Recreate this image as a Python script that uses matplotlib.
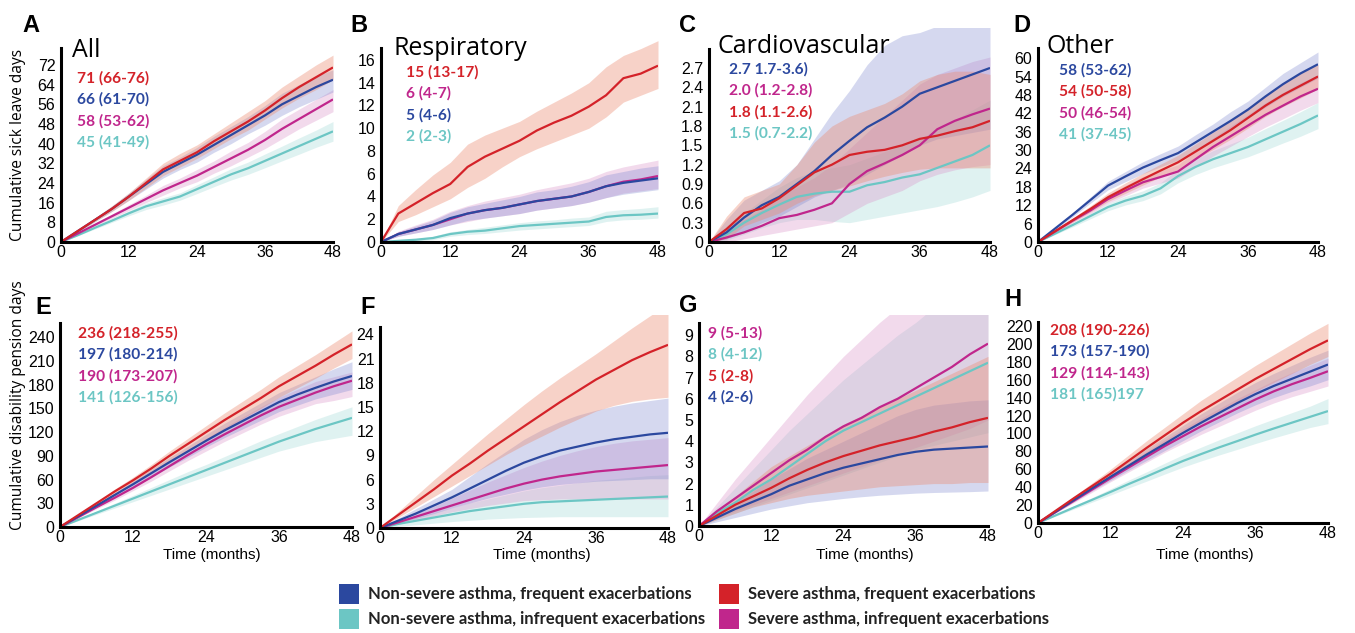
import matplotlib
matplotlib.use("Agg")
import matplotlib.pyplot as plt
from matplotlib.patches import Rectangle

# ---------------- data ----------------
MONTHS = [0, 3, 6, 9, 12, 15, 18, 21, 24, 27, 30, 33, 36, 39, 42, 45, 48]
X_TICKS = [0, 12, 24, 36, 48]

# Panel A - All (sick leave)
A_blue = [0, 4.5, 9, 13.5, 18.5, 23.5, 28.5, 32, 35.5, 39.5, 43.5, 47.5, 51.5, 56, 59.5, 63, 66]
A_blue_lo = [0, 4.1, 8.3, 12.5, 17, 21.5, 26, 29.5, 32.5, 36.5, 40, 44, 47.5, 51.5, 55, 58, 61]
A_blue_hi = [0, 4.9, 9.8, 14.6, 20, 25.5, 31, 34.5, 38.5, 43, 47, 51, 55.5, 60.5, 64, 67.5, 70]
A_cyan = [0, 2.8, 5.8, 8.7, 11.7, 14.5, 16.5, 18.5, 21.5, 24.5, 27.5, 30, 33, 36, 39, 42, 45]
A_cyan_lo = [0, 2.6, 5.3, 8, 10.7, 13.2, 15, 17, 19.7, 22.5, 25.2, 27.5, 30.2, 33, 35.7, 38.5, 41]
A_cyan_hi = [0, 3, 6.3, 9.4, 12.7, 15.8, 18, 20, 23.3, 26.5, 29.8, 32.5, 35.8, 39, 42.3, 45.5, 49]
A_red = [0, 4.5, 9, 13.5, 18.5, 24, 29.5, 33, 36.5, 41, 45, 49, 53.5, 58.5, 63, 67, 71]
A_red_lo = [0, 4, 8.3, 12.5, 17, 22, 27, 30.5, 34, 38, 42, 45.5, 50, 54.5, 58.5, 62, 66]
A_red_hi = [0, 5, 9.8, 14.8, 20, 26, 32, 36, 39.5, 44, 48.5, 53, 57.5, 63, 67.5, 72, 76]
A_mag = [0, 3.5, 7, 10.5, 14, 17.5, 21, 24, 27, 30.5, 34, 37.5, 41.5, 46, 50, 54, 58]
A_mag_lo = [0, 3.2, 6.4, 9.6, 12.8, 16, 19, 22, 24.5, 28, 31, 34.5, 38, 42, 46, 49.5, 53]
A_mag_hi = [0, 3.8, 7.6, 11.4, 15.2, 19, 23, 26, 29.5, 33, 37, 40.5, 45, 50, 54, 58, 62]

# Panel B - Respiratory
B_blue = [0, 0.7, 1.1, 1.5, 2.1, 2.5, 2.8, 3.0, 3.3, 3.6, 3.8, 4.0, 4.4, 4.9, 5.2, 5.4, 5.6]
B_blue_lo = [0, 0.5, 0.8, 1.1, 1.5, 1.9, 2.1, 2.3, 2.5, 2.8, 3.0, 3.2, 3.5, 3.9, 4.2, 4.4, 4.6]
B_blue_hi = [0, 0.9, 1.4, 1.9, 2.6, 3.1, 3.4, 3.7, 4.0, 4.4, 4.6, 4.9, 5.3, 5.9, 6.2, 6.5, 6.7]
B_cyan = [0, 0.1, 0.2, 0.35, 0.7, 0.9, 1.0, 1.2, 1.4, 1.5, 1.6, 1.7, 1.8, 2.2, 2.35, 2.4, 2.5]
B_cyan_lo = [0, 0.05, 0.1, 0.2, 0.5, 0.65, 0.75, 0.9, 1.05, 1.15, 1.25, 1.35, 1.45, 1.8, 1.95, 2.0, 2.1]
B_cyan_hi = [0, 0.2, 0.3, 0.5, 0.9, 1.1, 1.3, 1.5, 1.7, 1.85, 1.95, 2.1, 2.2, 2.7, 2.85, 2.95, 3.1]
B_red = [0, 2.5, 3.4, 4.3, 5.1, 6.6, 7.5, 8.2, 8.9, 9.8, 10.5, 11.1, 11.9, 12.9, 14.4, 14.8, 15.5]
B_red_lo = [0, 1.8, 2.4, 3.1, 3.8, 4.8, 5.6, 6.6, 7.5, 8.2, 8.8, 9.4, 10, 11, 12.3, 12.9, 13.5]
B_red_hi = [0, 3.2, 4.6, 5.9, 7, 8.6, 9.4, 10, 10.6, 11.5, 12.3, 13.1, 14, 15.4, 16.4, 17, 17.7]
B_mag = [0, 0.7, 1.1, 1.5, 2.0, 2.5, 2.8, 3.0, 3.3, 3.6, 3.8, 4.0, 4.4, 4.9, 5.3, 5.5, 5.8]
B_mag_lo = [0, 0.5, 0.8, 1.1, 1.5, 1.8, 2.1, 2.3, 2.5, 2.8, 3.0, 3.2, 3.5, 3.9, 4.3, 4.5, 4.7]
B_mag_hi = [0, 0.95, 1.5, 2.0, 2.7, 3.2, 3.6, 3.9, 4.2, 4.6, 4.9, 5.2, 5.6, 6.2, 6.6, 6.9, 7.2]

# Panel C - Cardiovascular
C_blue = [0, 0.15, 0.38, 0.57, 0.7, 0.9, 1.1, 1.35, 1.57, 1.78, 1.93, 2.1, 2.3, 2.4, 2.5, 2.6, 2.7]
C_blue_lo = [0, 0.05, 0.15, 0.3, 0.4, 0.55, 0.7, 0.8, 0.9, 1.05, 1.2, 1.35, 1.5, 1.6, 1.65, 1.7, 1.75]
C_blue_hi = [0, 0.35, 0.65, 0.8, 0.95, 1.2, 1.6, 2.0, 2.35, 2.75, 3.05, 3.2, 3.25, 3.35, 3.45, 3.55, 3.6]
C_cyan = [0, 0.12, 0.3, 0.45, 0.58, 0.7, 0.75, 0.78, 0.78, 0.88, 0.93, 1.0, 1.05, 1.15, 1.25, 1.35, 1.5]
C_cyan_lo = [0, 0.03, 0.12, 0.22, 0.3, 0.35, 0.35, 0.32, 0.3, 0.35, 0.4, 0.45, 0.5, 0.55, 0.62, 0.7, 0.8]
C_cyan_hi = [0, 0.25, 0.45, 0.65, 0.85, 1.0, 1.1, 1.15, 1.2, 1.3, 1.4, 1.5, 1.6, 1.75, 1.9, 2.05, 2.2]
C_red = [0, 0.2, 0.45, 0.52, 0.68, 0.88, 1.08, 1.2, 1.35, 1.4, 1.43, 1.5, 1.6, 1.65, 1.72, 1.78, 1.88]
C_red_lo = [0, 0.05, 0.25, 0.35, 0.45, 0.6, 0.72, 0.8, 0.87, 0.95, 1.02, 1.08, 1.13, 1.15, 1.15, 1.15, 1.15]
C_red_hi = [0, 0.4, 0.7, 0.8, 0.9, 1.2, 1.55, 1.8, 1.95, 2.05, 2.15, 2.3, 2.5, 2.6, 2.65, 2.65, 2.6]
C_mag = [0, 0.07, 0.15, 0.25, 0.37, 0.42, 0.5, 0.6, 0.9, 1.1, 1.22, 1.35, 1.5, 1.75, 1.88, 1.98, 2.07]
C_mag_lo = [0, 0.0, 0.05, 0.1, 0.15, 0.2, 0.25, 0.3, 0.45, 0.6, 0.7, 0.8, 0.95, 1.05, 1.12, 1.17, 1.2]
C_mag_hi = [0, 0.2, 0.35, 0.5, 0.7, 0.85, 1.0, 1.2, 1.45, 1.7, 1.95, 2.2, 2.45, 2.6, 2.7, 2.8, 2.87]

# Panel D - Other
D_blue = [0, 4.5, 9, 13.7, 18.4, 21.4, 24.3, 26.7, 29, 32.5, 36, 39.5, 43.2, 47.5, 51.5, 55, 58]
D_blue_lo = [0, 4.2, 8.3, 12.7, 17, 19.7, 22.3, 24.5, 26.7, 30, 33.5, 36.5, 40.5, 44, 47.5, 50.5, 53.5]
D_blue_hi = [0, 4.8, 9.7, 14.7, 19.8, 23, 26.2, 28.8, 31.3, 35, 38.5, 42.5, 46, 50.5, 55, 58.5, 62]
D_cyan = [0, 2.8, 5.6, 8.5, 11.4, 13.5, 15.1, 17.5, 21.5, 24.5, 27, 29, 31, 33.5, 36, 38.5, 41.3]
D_cyan_lo = [0, 2.5, 5, 7.6, 10.2, 12.1, 13.5, 15.7, 19.3, 22, 24.2, 26, 27.8, 30, 32.3, 34.5, 37]
D_cyan_hi = [0, 3.1, 6.2, 9.4, 12.6, 14.9, 16.7, 19.3, 23.7, 27, 29.8, 32, 34.2, 37, 39.7, 42.5, 45.5]
D_red = [0, 3.6, 7.2, 10.8, 14.6, 17.6, 20.5, 23.3, 26, 29.5, 33, 36.5, 40.5, 44.5, 48, 51, 54]
D_red_lo = [0, 3.2, 6.5, 9.8, 13.2, 15.9, 18.6, 21.2, 23.7, 27, 30.2, 33.5, 37.2, 41, 44.2, 47, 50]
D_red_hi = [0, 4, 7.9, 11.8, 16, 19.3, 22.4, 25.4, 28.3, 32, 35.8, 39.5, 43.8, 48, 51.8, 55, 58]
D_mag = [0, 3.5, 7, 10.3, 14, 16.8, 19.5, 21.2, 23, 27, 31, 34.5, 38, 41.5, 44.5, 47.5, 50]
D_mag_lo = [0, 3.1, 6.3, 9.3, 12.6, 15.1, 17.6, 19.2, 20.8, 24.4, 28, 31.2, 34.4, 37.5, 40.2, 43, 45.5]
D_mag_hi = [0, 3.9, 7.7, 11.3, 15.4, 18.5, 21.4, 23.3, 25.2, 29.6, 34, 37.8, 41.6, 45.5, 48.8, 52, 54.5]

# Panel E - All (disability pension)
E_blue = [0, 13.5, 27, 40.5, 54, 68, 82, 95.5, 109, 122, 134, 146, 158, 167.5, 176, 184, 191]
E_blue_lo = [0, 12.5, 25, 37.5, 50, 63, 76, 88, 101, 113, 124, 135, 146, 154, 162, 168, 174]
E_blue_hi = [0, 14.5, 29, 43.5, 58, 73, 88, 102, 117, 131, 144, 157, 170, 180, 190, 200, 209]
E_cyan = [0, 9, 18, 27, 36, 45, 54, 63, 72, 81, 90, 99, 108, 116, 124, 131, 138]
E_cyan_lo = [0, 8, 16, 24, 32, 40, 48, 56, 64, 72, 80, 88, 96, 102, 108, 112, 116]
E_cyan_hi = [0, 10, 20, 30, 40, 50, 60, 70, 79, 89, 99, 109, 118, 127, 136, 144, 152]
E_red = [0, 15, 30, 45, 59, 74, 90, 105, 120, 135, 149, 163, 178, 191, 204, 218, 231]
E_red_lo = [0, 14, 28, 41, 54, 68, 83, 97, 110, 124, 137, 150, 164, 176, 188, 201, 213]
E_red_hi = [0, 16, 32, 48, 63, 79, 96, 112, 128, 144, 159, 174, 190, 204, 218, 233, 248]
E_mag = [0, 12.5, 25, 37, 49.5, 63, 77, 91, 104.5, 117, 129, 141, 152, 161, 170, 178, 185]
E_mag_lo = [0, 11.5, 23, 34, 46, 58, 71, 84, 96, 108, 119, 130, 140, 148, 156, 160, 165]
E_mag_hi = [0, 13.5, 27, 40, 53, 68, 83, 98, 112, 126, 139, 152, 164, 174, 184, 190, 196]

# Panel F - Respiratory (disability pension)
F_blue = [0, 0.9, 1.8, 2.8, 3.8, 4.9, 6, 7.1, 8.1, 8.9, 9.6, 10.1, 10.6, 11, 11.3, 11.6, 11.8]
F_blue_lo = [0, 0.6, 1.2, 1.8, 2.5, 3.1, 3.7, 4.2, 4.7, 5.1, 5.4, 5.6, 5.8, 5.9, 6, 6.1, 6.1]
F_blue_hi = [0, 1.2, 2.4, 3.6, 4.8, 6.4, 8, 9.5, 11, 12.2, 13.2, 14, 14.6, 15.1, 15.5, 15.8, 16.1]
F_cyan = [0, 0.5, 0.9, 1.3, 1.7, 2.1, 2.4, 2.7, 3, 3.2, 3.3, 3.4, 3.5, 3.6, 3.7, 3.8, 3.9]
F_cyan_lo = [0, 0.2, 0.4, 0.6, 0.8, 0.95, 1.1, 1.2, 1.3, 1.35, 1.4, 1.4, 1.4, 1.4, 1.4, 1.4, 1.4]
F_cyan_hi = [0, 0.7, 1.3, 1.9, 2.5, 3.1, 3.6, 4.1, 4.6, 5, 5.3, 5.6, 5.9, 6.1, 6.3, 6.5, 6.6]
F_red = [0, 1.6, 3.2, 4.8, 6.5, 8, 9.6, 11.1, 12.6, 14.1, 15.6, 17, 18.4, 19.6, 20.8, 21.8, 22.7]
F_red_lo = [0, 1.3, 2.6, 3.9, 5.2, 6.5, 7.8, 9.1, 10.3, 11.4, 12.5, 13.5, 14.5, 15.2, 15.7, 16, 16.2]
F_red_hi = [0, 2, 4, 6, 7.9, 9.8, 11.7, 13.5, 15.3, 17, 18.6, 20.1, 21.6, 23.2, 24.8, 26.3, 27.8]
F_mag = [0, 0.7, 1.4, 2.1, 2.8, 3.5, 4.2, 4.9, 5.5, 6, 6.4, 6.7, 7, 7.2, 7.4, 7.6, 7.8]
F_mag_lo = [0, 0.5, 1, 1.5, 2, 2.4, 2.8, 3.1, 3.4, 3.5, 3.6, 3.6, 3.6, 3.6, 3.6, 3.6, 3.6]
F_mag_hi = [0, 0.9, 1.8, 2.7, 3.7, 4.7, 5.7, 6.6, 7.5, 8.3, 9, 9.6, 10.1, 10.5, 10.8, 11, 11.2]

# Panel G - Cardiovascular (disability pension)
G_blue = [0, 0.4, 0.8, 1.15, 1.5, 1.9, 2.2, 2.5, 2.75, 2.95, 3.15, 3.35, 3.5, 3.6, 3.65, 3.7, 3.75]
G_blue_lo = [0, 0.2, 0.4, 0.6, 0.8, 0.95, 1.1, 1.2, 1.3, 1.38, 1.45, 1.5, 1.55, 1.58, 1.6, 1.62, 1.65]
G_blue_hi = [0, 0.55, 1.1, 1.65, 2.2, 2.7, 3.2, 3.6, 4, 4.4, 4.8, 5.2, 5.5, 5.7, 5.8, 5.9, 5.95]
G_cyan = [0, 0.6, 1.1, 1.7, 2.2, 2.8, 3.4, 4, 4.5, 4.9, 5.3, 5.7, 6.1, 6.5, 6.9, 7.3, 7.7]
G_cyan_lo = [0, 0.3, 0.6, 0.9, 1.2, 1.5, 1.8, 2.1, 2.4, 2.7, 3, 3.3, 3.6, 3.8, 4, 4.2, 4.4]
G_cyan_hi = [0, 0.9, 1.8, 2.7, 3.6, 4.5, 5.3, 6.1, 6.9, 7.6, 8.3, 9, 9.6, 10.3, 10.9, 11.5, 12]
G_red = [0, 0.5, 1, 1.4, 1.8, 2.25, 2.65, 3, 3.3, 3.55, 3.8, 4, 4.2, 4.45, 4.65, 4.9, 5.1]
G_red_lo = [0, 0.3, 0.6, 0.9, 1.1, 1.3, 1.45, 1.55, 1.65, 1.75, 1.85, 1.9, 1.95, 2, 2, 2.05, 2.05]
G_red_hi = [0, 0.7, 1.4, 2.1, 2.8, 3.3, 3.8, 4.3, 4.8, 5.2, 5.6, 6, 6.4, 6.8, 7.2, 7.6, 8]
G_mag = [0, 0.7, 1.3, 1.9, 2.5, 3.1, 3.6, 4.2, 4.7, 5.1, 5.6, 6, 6.5, 7, 7.5, 8.1, 8.6]
G_mag_lo = [0, 0.35, 0.7, 1, 1.3, 1.6, 1.9, 2.2, 2.5, 2.8, 3.1, 3.4, 3.7, 4, 4.3, 4.6, 5]
G_mag_hi = [0, 1.1, 2.2, 3.2, 4.2, 5.2, 6.2, 7.1, 8, 8.8, 9.6, 10.3, 11, 11.7, 12.3, 12.9, 13.5]

# Panel H - Other (disability pension)
H_blue = [0, 13, 26, 39, 51.6, 64, 76.5, 88.5, 100.6, 112, 123, 134, 144, 153, 161, 169, 177]
H_blue_lo = [0, 12, 24, 36, 47.5, 59, 70, 81, 92, 103, 113, 123, 132, 140, 147, 153, 160]
H_blue_hi = [0, 14, 28, 42, 56, 69, 83, 96, 109, 122, 134, 146, 157, 167, 176, 185, 193]
H_cyan = [0, 8.8, 17.5, 26, 34.7, 43.5, 52, 60.8, 69.3, 77, 84.5, 91.5, 98.7, 105.5, 112, 118.5, 125]
H_cyan_lo = [0, 7.9, 15.7, 23.4, 31.2, 39.1, 46.8, 54.7, 62.4, 69.3, 76, 82.3, 88.8, 95, 100.8, 106.6, 111]
H_cyan_hi = [0, 9.7, 19.3, 28.6, 38.2, 47.9, 57.2, 66.9, 76.2, 84.7, 93, 100.7, 108.6, 116, 123.2, 130.4, 139]
H_red = [0, 14, 28, 41.5, 55, 69.5, 84, 98, 112, 125, 137, 149, 161, 172, 183, 194, 204]
H_red_lo = [0, 13, 26, 38, 50, 63, 76, 89, 102, 114, 125, 136, 147, 157, 167, 177, 186]
H_red_hi = [0, 15, 30, 45, 60, 76, 92, 107, 122, 137, 150, 163, 176, 188, 200, 212, 223]
H_mag = [0, 12.5, 25, 37.5, 50, 62, 74, 86, 97, 108, 118, 128, 138, 147, 155, 162, 169.5]
H_mag_lo = [0, 11.5, 23, 34.5, 46, 57, 68, 79, 89, 99, 108, 117, 126, 134, 141, 147, 153]
H_mag_hi = [0, 13.5, 27, 40.5, 54, 67, 80, 93, 105, 117, 128, 139, 149, 159, 168, 176, 184]

# Y ticks per panel
A_yticks = [0, 8, 16, 24, 32, 40, 48, 56, 64, 72]
B_yticks = [0, 2, 4, 6, 8, 10, 12, 14, 16]
C_yticks = [0, 0.3, 0.6, 0.9, 1.2, 1.5, 1.8, 2.1, 2.4, 2.7]
C_yticklabels = ["0", "0.3", "0.6", "0.9", "1.2", "1.5", "1.8", "2.1", "2.4", "2.7"]
D_yticks = [0, 6, 12, 18, 24, 30, 36, 42, 48, 54, 60]
E_yticks = [0, 30, 60, 90, 120, 150, 180, 210, 240]
F_yticks = [0, 3, 6, 9, 12, 15, 18, 21, 24]
G_yticks = [0, 1, 2, 3, 4, 5, 6, 7, 8, 9]
H_yticks = [0, 20, 40, 60, 80, 100, 120, 140, 160, 180, 200, 220]

# Titles and annotation labels
TITLES = {"A": "All", "B": "Respiratory", "C": "Cardiovascular", "D": "Other"}
A_notes = [("71 (66-76)", "red"), ("66 (61-70)", "blue"), ("58 (53-62)", "mag"), ("45 (41-49)", "cyan")]
B_notes = [("15 (13-17)", "red"), ("6 (4-7)", "mag"), ("5 (4-6)", "blue"), ("2 (2-3)", "cyan")]
C_notes = [("2.7 1.7-3.6)", "blue"), ("2.0 (1.2-2.8)", "mag"), ("1.8 (1.1-2.6)", "red"), ("1.5 (0.7-2.2)", "cyan")]
D_notes = [("58 (53-62)", "blue"), ("54 (50-58)", "red"), ("50 (46-54)", "mag"), ("41 (37-45)", "cyan")]
E_notes = [("236 (218-255)", "red"), ("197 (180-214)", "blue"), ("190 (173-207)", "mag"), ("141 (126-156)", "cyan")]
F_notes = []
G_notes = [("9 (5-13)", "mag"), ("8 (4-12)", "cyan"), ("5 (2-8)", "red"), ("4 (2-6)", "blue")]
H_notes = [("208 (190-226)", "red"), ("173 (157-190)", "blue"), ("129 (114-143)", "mag"), ("181 (165)197", "cyan")]

LEGEND_LABELS = {
    "blue": "Non-severe asthma, frequent exacerbations",
    "cyan": "Non-severe asthma, infrequent exacerbations",
    "red": "Severe asthma, frequent exacerbations",
    "mag": "Severe asthma, infrequent exacerbations",
}

# ---------------- style ----------------
LINE_COLORS = {"blue": "#2B489F", "cyan": "#6CC6C4", "red": "#D42229", "mag": "#C0268C"}
BAND_COLORS = {"blue": "#7D88D0", "cyan": "#9ED8D4", "red": "#EC8A70", "mag": "#D98CC6"}
BAND_ALPHA = {"blue": 0.32, "cyan": 0.32, "red": 0.38, "mag": 0.32}
TEXT_COLORS = {"blue": "#2B489F", "cyan": "#6CC6C4", "red": "#D42229", "mag": "#C0268C"}
DRAW_ORDER = ["cyan", "mag", "blue", "red"]

W, H = 1355, 633
fig = plt.figure(figsize=(W / 100, H / 100), dpi=100)

TICK_FONT = "Liberation Sans"
NOTE_FONT = ["Lato", "DejaVu Sans"]
TITLE_FONT = ["Open Sans", "DejaVu Sans"]

data = {
    "A": {"blue": (A_blue, A_blue_lo, A_blue_hi), "cyan": (A_cyan, A_cyan_lo, A_cyan_hi),
          "red": (A_red, A_red_lo, A_red_hi), "mag": (A_mag, A_mag_lo, A_mag_hi)},
    "B": {"blue": (B_blue, B_blue_lo, B_blue_hi), "cyan": (B_cyan, B_cyan_lo, B_cyan_hi),
          "red": (B_red, B_red_lo, B_red_hi), "mag": (B_mag, B_mag_lo, B_mag_hi)},
    "C": {"blue": (C_blue, C_blue_lo, C_blue_hi), "cyan": (C_cyan, C_cyan_lo, C_cyan_hi),
          "red": (C_red, C_red_lo, C_red_hi), "mag": (C_mag, C_mag_lo, C_mag_hi)},
    "D": {"blue": (D_blue, D_blue_lo, D_blue_hi), "cyan": (D_cyan, D_cyan_lo, D_cyan_hi),
          "red": (D_red, D_red_lo, D_red_hi), "mag": (D_mag, D_mag_lo, D_mag_hi)},
    "E": {"blue": (E_blue, E_blue_lo, E_blue_hi), "cyan": (E_cyan, E_cyan_lo, E_cyan_hi),
          "red": (E_red, E_red_lo, E_red_hi), "mag": (E_mag, E_mag_lo, E_mag_hi)},
    "F": {"blue": (F_blue, F_blue_lo, F_blue_hi), "cyan": (F_cyan, F_cyan_lo, F_cyan_hi),
          "red": (F_red, F_red_lo, F_red_hi), "mag": (F_mag, F_mag_lo, F_mag_hi)},
    "G": {"blue": (G_blue, G_blue_lo, G_blue_hi), "cyan": (G_cyan, G_cyan_lo, G_cyan_hi),
          "red": (G_red, G_red_lo, G_red_hi), "mag": (G_mag, G_mag_lo, G_mag_hi)},
    "H": {"blue": (H_blue, H_blue_lo, H_blue_hi), "cyan": (H_cyan, H_cyan_lo, H_cyan_hi),
          "red": (H_red, H_red_lo, H_red_hi), "mag": (H_mag, H_mag_lo, H_mag_hi)},
}

# layout: pixel box (left, right, bottom, top), ylim top, spine top
layout = {
    "A": dict(box=(61, 333, 242, 48), ytop=78.9, spine=78.9, yt=A_yticks, ytl=None, notes=A_notes,
              letter=(22, 25), note_xy=(77, 78), title_xy=(72, 57)),
    "B": dict(box=(381, 658, 242, 41), ytop=17.67, spine=17.05, yt=B_yticks, ytl=None, notes=B_notes,
              letter=(350, 25), note_xy=(406, 72), title_xy=(393, 55)),
    "C": dict(box=(709, 990, 242, 28), ytop=3.32, spine=3.0, yt=C_yticks, ytl=C_yticklabels, notes=C_notes,
              letter=(679, 25), note_xy=(729, 69), title_xy=(717, 53)),
    "D": dict(box=(1038, 1318, 242, 48), ytop=63.3, spine=63.3, yt=D_yticks, ytl=None, notes=D_notes,
              letter=(1013, 25), note_xy=(1059, 70), title_xy=(1047, 53)),
    "E": dict(box=(60, 352, 527, 323), ytop=258, spine=258, yt=E_yticks, ytl=None, notes=E_notes,
              letter=(35, 308), note_xy=(78, 333), title_xy=None),
    "F": dict(box=(380, 668, 528, 315), ytop=26.4, spine=24.9, yt=F_yticks, ytl=None, notes=F_notes,
              letter=(360, 308), note_xy=(406, 333), title_xy=None),
    "G": dict(box=(699, 988, 526, 315), ytop=9.95, spine=9.57, yt=G_yticks, ytl=None, notes=G_notes,
              letter=(679, 306), note_xy=(708, 333), title_xy=None),
    "H": dict(box=(1038, 1328, 523, 322), ytop=224.5, spine=224.5, yt=H_yticks, ytl=None, notes=H_notes,
              letter=(1004, 300), note_xy=(1050, 330), title_xy=None),
}
xlabel_x = {"E": 212, "F": 542, "G": 865, "H": 1205}


def fx(px):
    return px / W


def fy(py):
    return 1 - py / H


for key, cfg in layout.items():
    l, r, b, t = cfg["box"]
    ax = fig.add_axes([fx(l), fy(b), (r - l) / W, (b - t) / H])
    for s in DRAW_ORDER:
        mean, lo, hi = data[key][s]
        ax.fill_between(MONTHS, lo, hi, color=BAND_COLORS[s], alpha=BAND_ALPHA[s], lw=0)
    for s in DRAW_ORDER:
        mean, lo, hi = data[key][s]
        ax.plot(MONTHS, mean, color=LINE_COLORS[s], lw=1.6, solid_capstyle="butt")
    ax.set_xlim(0, 48)
    ax.set_ylim(0, cfg["ytop"])
    ax.set_xticks(X_TICKS)
    ax.set_yticks(cfg["yt"])
    if cfg["ytl"] is not None:
        ax.set_yticklabels(cfg["ytl"])
    ax.tick_params(axis="y", length=0, labelsize=11.5, pad=4)
    ax.tick_params(axis="x", length=0, labelsize=11.5, pad=2.5)
    for lab in ax.get_xticklabels() + ax.get_yticklabels():
        lab.set_fontfamily(TICK_FONT)
    for sp in ("top", "right"):
        ax.spines[sp].set_visible(False)
    for sp in ("left", "bottom"):
        ax.spines[sp].set_linewidth(2.2)
        ax.spines[sp].set_color("black")
    ax.spines["left"].set_bounds(0, cfg["spine"])
    ax.patch.set_alpha(0)

    # panel letter
    fig.text(fx(cfg["letter"][0]), fy(cfg["letter"][1]), key, fontsize=17, fontweight="bold",
             family=TICK_FONT, va="center", ha="left")
    # title
    if cfg["title_xy"] is not None:
        fig.text(fx(cfg["title_xy"][0]), fy(cfg["title_xy"][1]), TITLES[key], fontsize=18,
                 family=TITLE_FONT, va="baseline", ha="left")
    # annotations
    nx, ny = cfg["note_xy"]
    for i, (txt, s) in enumerate(cfg["notes"]):
        fig.text(fx(nx), fy(ny + i * 21.5), txt, color=TEXT_COLORS[s], fontsize=11.2,
                 fontweight="bold", family=NOTE_FONT, va="center", ha="left")
    if key in xlabel_x:
        fig.text(fx(xlabel_x[key]), fy(555), "Time (months)", fontsize=11, family=TICK_FONT,
                 ha="center", va="center")

# y labels
fig.text(fx(18), fy(145), "Cumulative sick leave days", rotation=90, fontsize=11.2,
         family=TITLE_FONT, ha="center", va="center")
fig.text(fx(18), fy(405), "Cumulative disability pension days", rotation=90, fontsize=11.2,
         family=TITLE_FONT, ha="center", va="center")

# legend
leg_pos = {"blue": (339, 594), "cyan": (339, 619), "red": (719, 594), "mag": (719, 619)}
for s, (lx, ly) in leg_pos.items():
    fig.patches.append(Rectangle((fx(lx), fy(ly + 10)), 20 / W, 20 / H, transform=fig.transFigure,
                                 facecolor=LINE_COLORS[s], edgecolor="none"))
    fig.text(fx(lx + 29), fy(ly), LEGEND_LABELS[s], fontsize=12, fontweight="bold",
             family=NOTE_FONT, va="center", ha="left", color="#222222")

fig.savefig("out.png", dpi=100)
